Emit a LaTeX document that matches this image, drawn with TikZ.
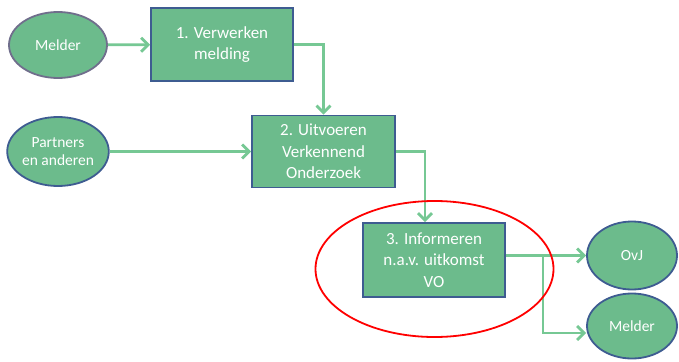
\documentclass[tikz,border=0pt]{standalone}
\usepackage{fontspec}
\setmainfont{Carlito}
\usetikzlibrary{shapes.geometric,arrows.meta}
\definecolor{boxfill}{RGB}{108,187,140}
\definecolor{boxline}{RGB}{62,92,145}
\definecolor{grayline}{RGB}{112,110,140}
\definecolor{arrowgreen}{RGB}{118,200,148}
\tikzset{
  stepbox/.style={draw=boxline, line width=1.8pt, fill=boxfill, text=white, align=center,
    minimum width=142pt, minimum height=73pt, inner sep=0pt,
    font=\fontsize{17}{21.5}\selectfont},
  actor/.style={ellipse, draw=boxline, line width=1.8pt, fill=boxfill, text=white, align=center,
    inner sep=0pt, font=\fontsize{15.5}{18.5}\selectfont},
  flow/.style={draw=arrowgreen, line width=2.8pt,
    -{Straight Barb[length=7pt,width=14pt,line width=2.8pt]}},
}
\begin{document}
\begin{tikzpicture}[x=1pt,y=-1pt]
\useasboundingbox (0,0) rectangle (679,361);
\node[actor, draw=grayline, minimum width=98pt, minimum height=66pt] (melderA) at (58,45) {Melder};
\node[stepbox] (box1) at (222,44.5) {1. Verwerken\\melding};
\node[actor, minimum width=98pt, minimum height=69pt] (partners) at (58,151.5) {Partners\\en anderen};
\node[stepbox, minimum width=143pt, minimum height=72pt] (box2) at (323.5,151.5) {2. Uitvoeren\\Verkennend\\Onderzoek};
\node[stepbox, minimum height=74pt] (box3) at (434,260) {3. Informeren\\n.a.v. uitkomst\\VO};
\node[actor, minimum width=90pt, minimum height=68pt] (ovj) at (632,255.5) {OvJ};
\node[actor, minimum width=90pt, minimum height=65pt] (melderB) at (632,326) {Melder};
\coordinate (branch) at (543,255.5);
\draw[flow] (melderA) -- (box1);
\draw[flow] (box1.east) -| (box2.north);
\draw[flow] (partners) -- (box2);
\draw[flow] (box2.east) -| ([xshift=-9pt]box3.north);
\draw[flow] ([yshift=4.5pt]box3.east) -- (ovj.west);
\draw[flow] (branch) |- ([yshift=-7pt]melderB.west);
\node[ellipse, draw=red, line width=1.8pt, minimum width=238pt, minimum height=136pt, inner sep=0pt] (focus) at (434.5,269) {};
\end{tikzpicture}
\end{document}
